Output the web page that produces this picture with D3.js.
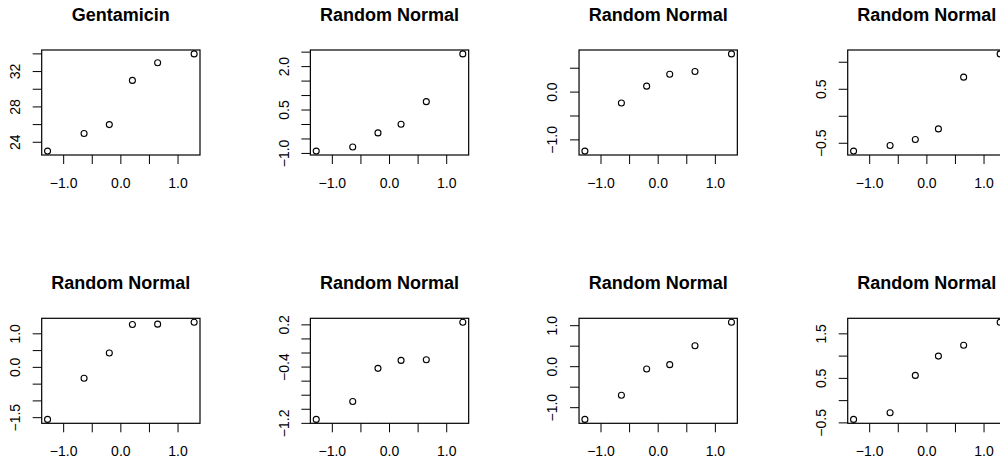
<!DOCTYPE html>
<html>
<head>
<meta charset="utf-8">
<script src="https://cdn.jsdelivr.net/npm/d3@7"></script>
<style>
  html, body { margin: 0; padding: 0; background: #fff; }
  svg { display: block; font-family: "Liberation Sans", Arial, Helvetica, sans-serif; }
</style>
</head>
<body>
<svg id="chart" width="1000" height="461"></svg>
<script>
// ---- data ----
const titles = ["Gentamicin", "Random Normal", "Random Normal", "Random Normal",
                "Random Normal", "Random Normal", "Random Normal", "Random Normal"];
// theoretical normal quantiles for n = 6
const theoretical = [-1.2816, -0.6433, -0.2019, 0.2019, 0.6433, 1.2816];
const sample1 = [23, 25, 26, 31, 33, 34];
const sample2 = [-0.92, -0.78, -0.29, 0.01, 0.79, 2.44];
const sample3 = [-1.235, -0.229, 0.125, 0.375, 0.431, 0.80];
const sample4 = [-0.645, -0.54, -0.43, -0.234, 0.724, 1.155];
const sample5 = [-1.552, -0.326, 0.427, 1.276, 1.288, 1.347];
const sample6 = [-1.144, -0.889, -0.418, -0.305, -0.295, 0.238];
const sample7 = [-1.286, -0.697, -0.057, 0.049, 0.51, 1.085];
const sample8 = [-0.422, -0.273, 0.567, 1.0, 1.245, 1.762];
const samples = [sample1, sample2, sample3, sample4, sample5, sample6, sample7, sample8];

const xTicks = [-1, -0.5, 0, 0.5, 1];
const xTickLabels = [-1, 0, 1];
const yTicksList = [
  [24, 26, 28, 30, 32, 34],
  [-1, -0.5, 0, 0.5, 1, 1.5, 2, 2.5],
  [-1, -0.5, 0, 0.5],
  [-0.5, 0, 0.5, 1],
  [-1.5, -1, -0.5, 0, 0.5, 1],
  [-1.2, -1.0, -0.8, -0.6, -0.4, -0.2, 0, 0.2],
  [-1, -0.5, 0, 0.5, 1],
  [-0.5, 0, 0.5, 1, 1.5]
];
const yTickLabelsList = [
  [24, 28, 32],
  [-1, 0.5, 2],
  [-1, 0],
  [-0.5, 0.5],
  [-1.5, 0, 1],
  [-1.2, -0.4, 0.2],
  [-1, 0, 1],
  [-0.5, 0.5, 1.5]
];
const yDecimals = [0, 1, 1, 1, 1, 1, 1, 1];

// ---- layout ----
const colLeft0 = 41.7, colStep = 268.67;
const rowTop0 = 50, rowStep = 268.3;
const boxW = 158.3, boxH = 105;
const tickLen = 9;

const svg = d3.select("#chart");

function fmt(v, dec) {
  return d3.format("." + dec + "f")(v).replace("-", "\u2212");
}

function extendRange(vals) {
  const [lo, hi] = d3.extent(vals);
  const r = hi - lo;
  return [lo - 0.04 * r, hi + 0.04 * r];
}

samples.forEach((ys, i) => {
  const col = i % 4, row = Math.floor(i / 4);
  const left = colLeft0 + col * colStep;
  const top = rowTop0 + row * rowStep;

  const x = d3.scaleLinear().domain(extendRange(theoretical)).range([left, left + boxW]);
  const y = d3.scaleLinear().domain(extendRange(ys)).range([top + boxH, top]);

  const g = svg.append("g");

  // title
  g.append("text")
    .attr("x", left + boxW / 2)
    .attr("y", top - 29.3)
    .attr("text-anchor", "middle")
    .attr("font-size", 18)
    .attr("font-weight", "bold")
    .attr("fill", "#000")
    .text(titles[i]);

  // x axis ticks
  g.selectAll(".xt").data(xTicks).enter().append("line")
    .attr("x1", d => x(d)).attr("x2", d => x(d))
    .attr("y1", top + boxH).attr("y2", top + boxH + tickLen)
    .attr("stroke", "#000").attr("stroke-width", 1);
  g.selectAll(".xl").data(xTickLabels).enter().append("text")
    .attr("x", d => x(d))
    .attr("y", top + boxH + 33)
    .attr("text-anchor", "middle")
    .attr("font-size", 14)
    .attr("fill", "#000")
    .text(d => fmt(d, 1));

  // y axis ticks
  g.selectAll(".yt").data(yTicksList[i]).enter().append("line")
    .attr("x1", left - tickLen).attr("x2", left)
    .attr("y1", d => y(d)).attr("y2", d => y(d))
    .attr("stroke", "#000").attr("stroke-width", 1);
  g.selectAll(".yl").data(yTickLabelsList[i]).enter().append("text")
    .attr("transform", d => `translate(${left - 21.7},${y(d)}) rotate(-90)`)
    .attr("text-anchor", "middle")
    .attr("font-size", 14)
    .attr("fill", "#000")
    .text(d => fmt(d, yDecimals[i]));

  // box
  g.append("rect")
    .attr("x", left).attr("y", top)
    .attr("width", boxW).attr("height", boxH)
    .attr("fill", "none").attr("stroke", "#000").attr("stroke-width", 1.2);

  // points
  g.selectAll("circle").data(ys).enter().append("circle")
    .attr("cx", (d, k) => x(theoretical[k]))
    .attr("cy", d => y(d))
    .attr("r", 3)
    .attr("fill", "none")
    .attr("stroke", "#000")
    .attr("stroke-width", 1.1);
});
</script>
</body>
</html>
